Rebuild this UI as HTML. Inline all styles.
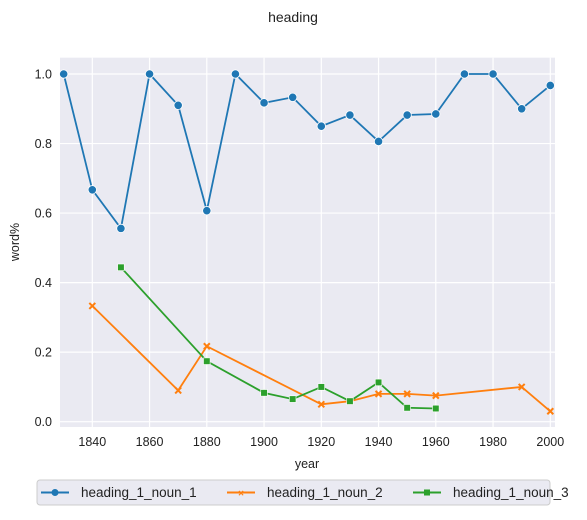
<!DOCTYPE html>
<html><head><meta charset="utf-8"><style>
body{margin:0;background:#fff;font-family:"Liberation Sans","DejaVu Sans",sans-serif}
</style></head><body>
<svg id="chart" width="587" height="515" xmlns="http://www.w3.org/2000/svg" font-family="Liberation Sans, DejaVu Sans, sans-serif">
<text x="293" y="22" text-anchor="middle" font-size="14" fill="#222">heading</text>
<rect x="60" y="57.7" width="495" height="369.3" fill="#eaeaf2"/>
<g id="grid"></g><g id="series"></g><g id="ticks"></g>
<text x="307" y="468" text-anchor="middle" font-size="12.5" fill="#222">year</text>
<text x="0" y="0" transform="translate(19,242) rotate(-90)" text-anchor="middle" font-size="12.5" fill="#222">word%</text>
<g>
<rect x="37" y="480" width="513" height="25" rx="3" fill="#eaeaf2" stroke="#ccc"/>
<g><line x1="41" y1="492.5" x2="69" y2="492.5" stroke="#1f77b4" stroke-width="2"/><circle cx="55" cy="492.5" r="3.5" fill="#1f77b4"/><text x="81" y="497" font-size="13.5" fill="#222">heading_1_noun_1</text></g>
<g><line x1="227" y1="492.5" x2="255" y2="492.5" stroke="#ff7f0e" stroke-width="2"/><text x="241" y="496.5" font-size="10" font-weight="bold" fill="#ff7f0e" text-anchor="middle">×</text><text x="267" y="497" font-size="13.5" fill="#222">heading_1_noun_2</text></g>
<g><line x1="413" y1="492.5" x2="441" y2="492.5" stroke="#2ca02c" stroke-width="2"/><rect x="424" y="489.5" width="6" height="6" fill="#2ca02c"/><text x="453" y="497" font-size="13.5" fill="#222">heading_1_noun_3</text></g>
</g>
</svg>
<script>
const xTicks=[1840,1860,1880,1900,1920,1940,1960,1980,2000];
const yTicks=[0.0,0.2,0.4,0.6,0.8,1.0];
const years1=[1830,1840,1850,1860,1870,1880,1890,1900,1910,1920,1930,1940,1950,1960,1970,1980,1990,2000];
const vals1=[1.0,0.667,0.556,1.0,0.91,0.607,1.0,0.917,0.933,0.85,0.882,0.806,0.882,0.885,1.0,1.0,0.9,0.967];
const years2=[1840,1870,1880,1920,1930,1940,1950,1960,1990,2000];
const vals2=[0.333,0.09,0.217,0.05,0.059,0.08,0.08,0.075,0.1,0.03];
const years3=[1850,1880,1900,1910,1920,1930,1940,1950,1960];
const vals3=[0.444,0.174,0.083,0.065,0.1,0.059,0.113,0.04,0.038];
const NS="http://www.w3.org/2000/svg";
const X=y=>92.3+(y-1840)*2.8625, Y=v=>421.7-v*347.7;
function mk(t,a,p){const e=document.createElementNS(NS,t);for(const k in a)e.setAttribute(k,a[k]);p.appendChild(e);return e;}
const g=document.getElementById('grid'),tk=document.getElementById('ticks'),s=document.getElementById('series');
xTicks.forEach(t=>{const l=mk('line',{x1:X(t),x2:X(t),y1:57.7,y2:427,stroke:'#fff','stroke-width':1.2},g);


const tx=mk('text',{x:X(t),y:446,'text-anchor':'middle','font-size':12.5,fill:'#222'},tk);tx.textContent=t;

});
yTicks.forEach(t=>{const l=mk('line',{x1:60,x2:555,y1:Y(t),y2:Y(t),stroke:'#fff','stroke-width':1.2},g);


const tx=mk('text',{x:52,y:Y(t)+4.5,'text-anchor':'end','font-size':12.5,fill:'#222'},tk);tx.textContent=t.toFixed(1);

});
function series(xs,vs,col,m,name){
const pl=mk('polyline',{points:xs.map((x,i)=>X(x)+','+Y(vs[i])).join(' '),fill:'none',stroke:col,'stroke-width':1.8},s);


xs.forEach((x,i)=>{const cx=X(x),cy=Y(vs[i]);let e;
if(m==='o')e=mk('circle',{cx:cx,cy:cy,r:4.2,fill:col,stroke:'#fff','stroke-width':0.8},s);
else if(m==='s')e=mk('rect',{x:cx-3.3,y:cy-3.3,width:6.6,height:6.6,fill:col,stroke:'#fff','stroke-width':0.6},s);
else e=mk('path',{d:`M${cx-3},${cy-3}L${cx+3},${cy+3}M${cx+3},${cy-3}L${cx-3},${cy+3}`,stroke:col,'stroke-width':2},s);

});}
series(years2,vals2,'#ff7f0e','x','noun-2');
series(years3,vals3,'#2ca02c','s','noun-3');
series(years1,vals1,'#1f77b4','o','noun-1');
</script>
</body></html>
